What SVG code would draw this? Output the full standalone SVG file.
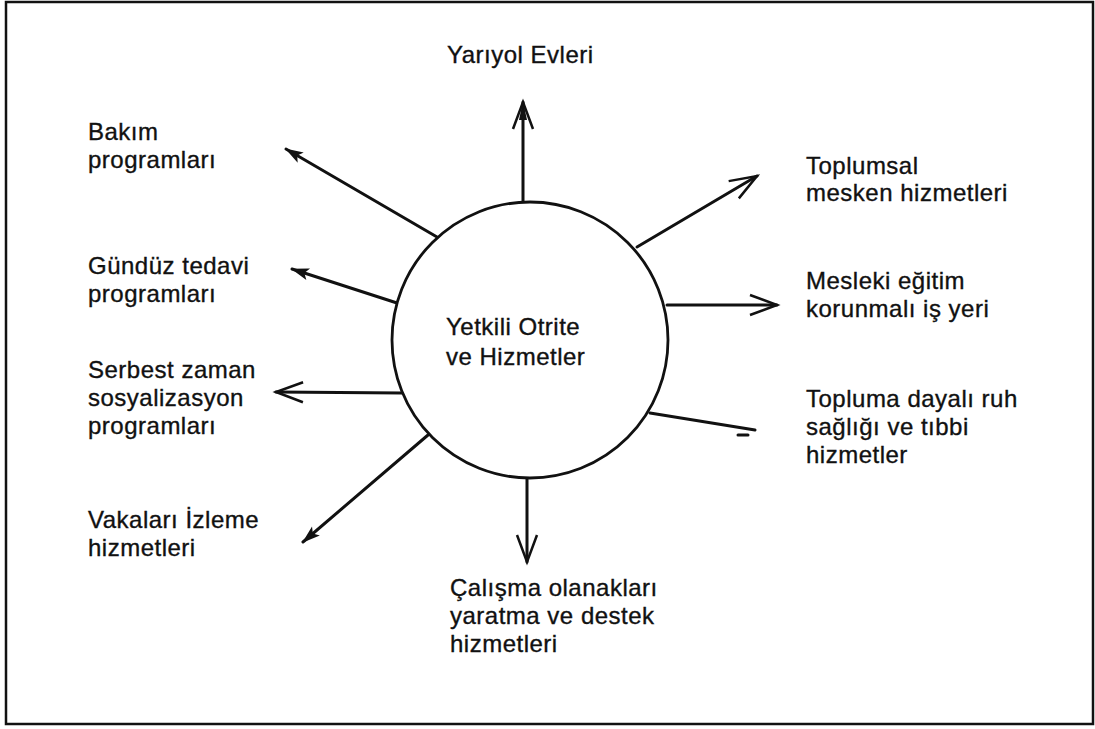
<svg xmlns="http://www.w3.org/2000/svg" width="1095" height="729" viewBox="0 0 1095 729">
<style>
.lbl{font-family:"Liberation Sans",Arial,Helvetica,sans-serif;font-size:24px;letter-spacing:0.5px;fill:#111;stroke:#111;stroke-width:0.35px;}
.ln{stroke:#111;stroke-width:3;fill:none;stroke-linecap:round;}
.frame{fill:#fff;stroke:#111;stroke-width:2.5;}
.hub{fill:#fff;stroke:#111;stroke-width:2.8;}
</style>
<defs>
<marker id="vopen" markerUnits="userSpaceOnUse" markerWidth="40" markerHeight="30" refX="0" refY="0" viewBox="-32 -15 36 30" orient="auto" overflow="visible">
<path d="M-27,-10 L0,0 L-27,10" fill="none" stroke="#111" stroke-width="2.5" stroke-linejoin="miter"/>
</marker>
<marker id="vfill" markerUnits="userSpaceOnUse" markerWidth="40" markerHeight="30" refX="0" refY="0" viewBox="-32 -15 36 30" orient="auto" overflow="visible">
<path d="M-27,-10 L0,0 L-27,10" fill="none" stroke="#111" stroke-width="2.5" stroke-linejoin="miter"/>
<path d="M1,0 L-18,-4 L-18,4 Z" fill="#111"/>
</marker>
<marker id="vsmall" markerUnits="userSpaceOnUse" markerWidth="30" markerHeight="20" refX="0" refY="0" viewBox="-22 -10 24 20" orient="auto" overflow="visible">
<path d="M1,0 L-17,-6 L-13,0 L-17,6 Z" fill="#111"/>
</marker>
</defs>
<rect class="frame" x="6" y="2" width="1087" height="722"/>
<g id="connectors">
<line class="ln" x1="523" y1="202" x2="523" y2="102" marker-end="url(#vfill)"/>
<line class="ln" x1="437" y1="237" x2="286" y2="149" marker-end="url(#vsmall)"/>
<line class="ln" x1="397" y1="303" x2="292" y2="269" marker-end="url(#vsmall)"/>
<line class="ln" x1="402" y1="393" x2="276" y2="392" marker-end="url(#vopen)"/>
<line class="ln" x1="428" y1="435" x2="303" y2="542" marker-end="url(#vsmall)"/>
<line class="ln" x1="527" y1="478" x2="527" y2="562" marker-end="url(#vopen)"/>
<line class="ln" x1="650" y1="413" x2="755" y2="430" stroke-width="3.5"/>
<line class="ln" x1="738" y1="435" x2="748" y2="435"/>
<line class="ln" x1="667" y1="305" x2="777" y2="305" marker-end="url(#vopen)"/>
<line class="ln" x1="637" y1="247" x2="757" y2="176" marker-end="url(#vopen)"/>
</g>
<g id="hub">
<circle class="hub" cx="530" cy="340" r="138"/>
<text class="lbl" x="446" y="335">Yetkili Otrite</text>
<text class="lbl" x="446" y="365">ve Hizmetler</text>
</g>
<g id="n-yariyol"><text class="lbl" x="447" y="63">Yarıyol Evleri</text></g>
<g id="n-bakim"><text class="lbl" x="88" y="140">Bakım</text><text class="lbl" x="88" y="168">programları</text></g>
<g id="n-gunduz"><text class="lbl" x="88" y="274">Gündüz tedavi</text><text class="lbl" x="88" y="302">programları</text></g>
<g id="n-serbest"><text class="lbl" x="88" y="378">Serbest zaman</text><text class="lbl" x="88" y="406">sosyalizasyon</text><text class="lbl" x="88" y="434">programları</text></g>
<g id="n-vaka"><text class="lbl" x="88" y="528">Vakaları İzleme</text><text class="lbl" x="88" y="556">hizmetleri</text></g>
<g id="n-calisma"><text class="lbl" x="450" y="596">Çalışma olanakları</text><text class="lbl" x="450" y="624">yaratma ve destek</text><text class="lbl" x="450" y="652">hizmetleri</text></g>
<g id="n-toplumsal"><text class="lbl" x="806" y="174">Toplumsal</text><text class="lbl" x="806" y="201">mesken hizmetleri</text></g>
<g id="n-mesleki"><text class="lbl" x="806" y="289">Mesleki eğitim</text><text class="lbl" x="806" y="317">korunmalı iş yeri</text></g>
<g id="n-topluma"><text class="lbl" x="806" y="407">Topluma dayalı ruh</text><text class="lbl" x="806" y="435">sağlığı ve tıbbi</text><text class="lbl" x="806" y="463">hizmetler</text></g>
</svg>
